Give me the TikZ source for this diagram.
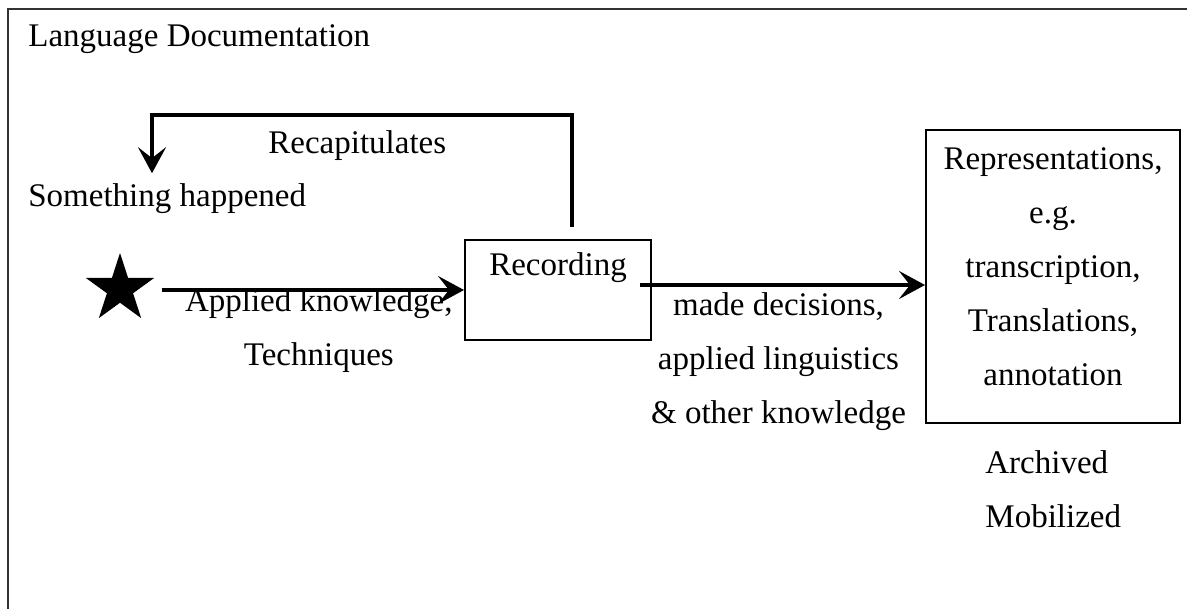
\documentclass[tikz,border=0pt]{standalone}
\usepackage{fontspec}
\setmainfont{Liberation Serif}
\usetikzlibrary{arrows.meta,shapes.geometric}
\tikzset{%
  >={Stealth[length=13pt,width=14pt,inset=5.5pt]},
  % Specifications for style of nodes:
         base/.style = {inner sep=0pt, font=\fontsize{16.5}{27}\selectfont},
          txt/.style = {base, anchor=base west},
      procbox/.style = {base, rectangle, draw=black, line width=1pt,
                        align=center},
    starshape/.style = {star, star points=5, star point ratio=2.618,
                        fill=black, minimum size=36pt, inner sep=0pt},
      edgetxt/.style = {base, anchor=north, align=center},
  % Specifications for style of lines:
         flow/.style = {->, line width=2pt},
        frame/.style = {draw=black!80, line width=1.2pt},
}

\begin{document}
\begin{tikzpicture}[x=0.5pt, y=-0.5pt]
  \useasboundingbox (0,0) rectangle (1187,609);
  \coordinate (framebl) at (8,620);
  \coordinate (frametr) at (1200,9);
  \draw[frame] (framebl) |- (frametr);

  % Specification of nodes (position, etc.)
  \node (title)    [txt] at (28,47)   {Language Documentation};
  \node (happened) [txt] at (28,206)  {Something happened};
  \node (recap)    [txt] at (268,154) {Recapitulates};
  \node (star)     [starshape] at (120,289) {};
  \node (rec)      [procbox, text width=93pt, text height=17.5pt,
                    text depth=32.5pt] at (558,290) {Recording};
  \node (rep)      [procbox, text width=127pt, text height=20pt,
                    text depth=126.5pt] at (1053,276.5)
  {Representations,\\ e.g.\\ transcription,\\ Translations,\\ annotation};
  \node (archived) [base, align=left, anchor=north west] at (985,450)
  {Archived\\ Mobilized};
  \coordinate (loop) at (152,115);

  % Specification of lines between nodes specified above
  % with aditional nodes for description
  \draw[flow] ([xshift=11pt]star.east |- rec.west) -- node[edgetxt, xshift=3pt, yshift=1.5pt]
  {Applied knowledge,\\ Techniques} (rec.west);
  \draw[flow] ([xshift=-6pt,yshift=2.5pt]rec.east) -- node[edgetxt, xshift=-2pt, yshift=-3pt]
  {made decisions,\\ applied linguistics\\ \& other knowledge} ([yshift=-4.25pt]rep.west);
  \draw[flow, shorten <=6pt, shorten >=4.75pt] ([xshift=7pt]rec.north) |- (loop)
  -- (loop |- happened.north);
\end{tikzpicture}
\end{document}
